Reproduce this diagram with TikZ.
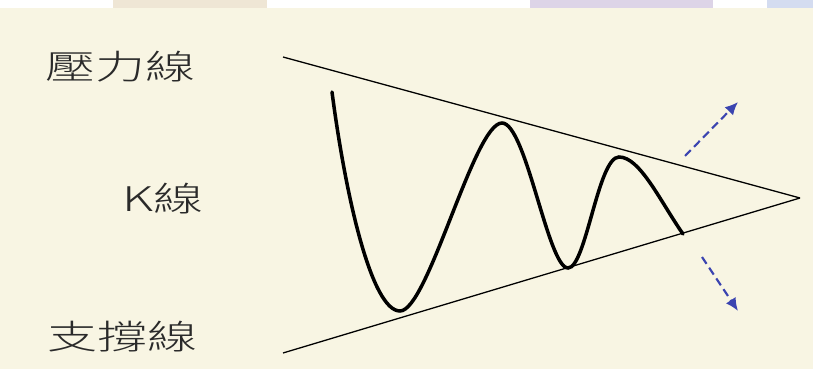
\documentclass[tikz,border=0pt]{standalone}
\usepackage{fontspec}
\usepackage{tikz}
\usetikzlibrary{arrows.meta,positioning}
\newfontfamily\cjk[FakeStretch=1.47]{Noto Sans CJK TC Light}
\definecolor{papercream}{HTML}{F8F5E3}
\definecolor{tabbeige}{HTML}{EFE6D5}
\definecolor{tablilac}{HTML}{DDD4E7}
\definecolor{tabblue}{HTML}{D4DCF0}
\definecolor{inkgray}{HTML}{2A2A2A}
\definecolor{breakblue}{HTML}{3B44B0}

\begin{document}
\begin{tikzpicture}[
    x=0.03cm,y=0.03cm,
    label/.style={font=\cjk\fontsize{29}{32}\selectfont,text=inkgray,anchor=west,inner sep=0pt},
    trendline/.style={draw=black,line width=1.1pt},
    kline/.style={draw=black,line width=3pt,line cap=round},
    breakout/.style={draw=breakblue,line width=1.8pt,dash pattern=on 7pt off 4pt,-{Latex[length=11pt,width=10pt]}}
  ]
    \fill[white] (0,0) rectangle (813,369);
    \fill[papercream] (0,0) rectangle (813,361);
    \fill[tabbeige] (113,361) rectangle (267,369);
    \fill[tablilac] (530,361) rectangle (713,369);
    \fill[tabblue] (767,361) rectangle (813,369);
    \useasboundingbox (0,0) rectangle (813,369);

    \node[label] (res) at (45,302) {壓力線};
    \node[label] (kl) at (122,170) {K線};
    \node[label] (sup) at (47,32) {支撐線};

    \coordinate (restop) at (283,312);
    \coordinate (supbot) at (283,16);
    \coordinate (apex) at (800,171);
    \draw[trendline] (restop) -- (apex);
    \draw[trendline] (supbot) -- (apex);

    \draw[kline] (332,277) .. controls (346,170) and (372,58) .. (400,58)
      .. controls (428,58) and (474,246) .. (502,246)
      .. controls (526,246) and (548,101) .. (568,101)
      .. controls (586,101) and (598,212) .. (619,212)
      .. controls (640,212) and (660,168) .. (683,135);

    \coordinate (upfrom) at (685,213);
    \coordinate (upto) at (738,267);
    \coordinate (downfrom) at (702,112);
    \coordinate (downto) at (738,58);
    \draw[breakout] (upfrom) -- (upto);
    \draw[breakout] (downfrom) -- (downto);
  \end{tikzpicture}
\end{document}
